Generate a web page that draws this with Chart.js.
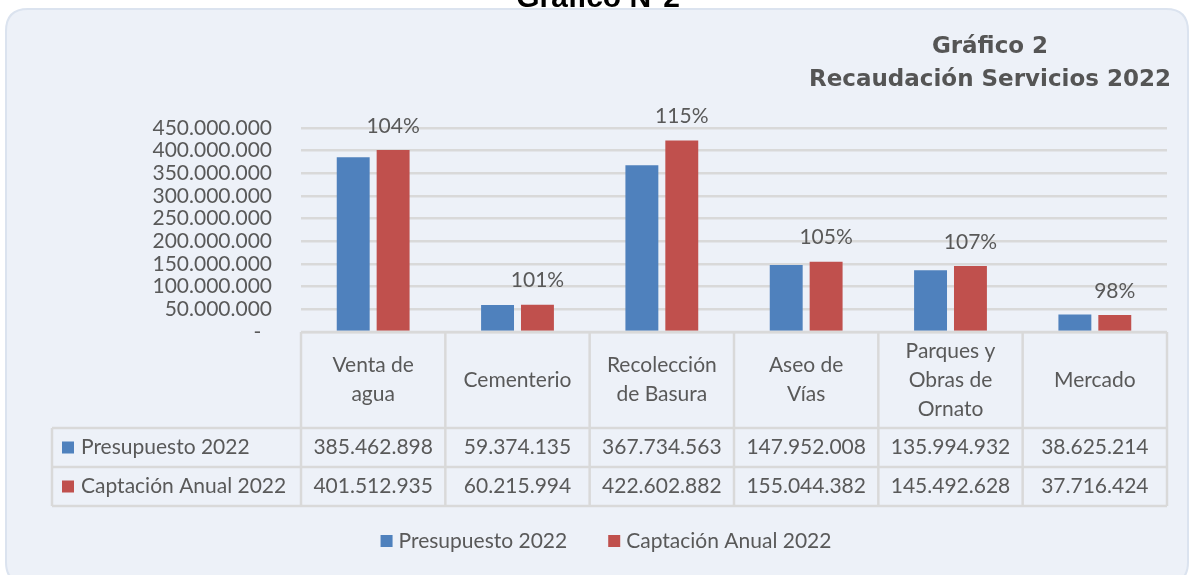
<!DOCTYPE html>
<html>
<head>
<meta charset="utf-8">
<script src="https://cdn.jsdelivr.net/npm/chart.js@4.4.1/dist/chart.umd.min.js"></script>
<style>
html,body{margin:0;padding:0;background:#ffffff;}
#wrap{width:1190px;height:575px;position:relative;}
</style>
</head>
<body>
<div id="wrap"><canvas id="c" width="1190" height="575"></canvas></div>
<script>
// ---- data ----
const pageTitle = 'Gráfico N°2';
const chartTitle = ['Gráfico 2', 'Recaudación Servicios 2022'];
const categories = [['Venta de','agua'], ['Cementerio'], ['Recolección','de Basura'], ['Aseo de','Vías'], ['Parques y','Obras de','Ornato'], ['Mercado']];
const seriesNames = ['Presupuesto 2022', 'Captación Anual 2022'];
const presupuesto = [385462898, 59374135, 367734563, 147952008, 135994932, 38625214];
const captacion = [401512935, 60215994, 422602882, 155044382, 145492628, 37716424];
const cumplimiento = ['104%', '101%', '115%', '105%', '107%', '98%'];
const yTickValues = [0, 50000000, 100000000, 150000000, 200000000, 250000000, 300000000, 350000000, 400000000, 450000000];

// ---- style ----
const BLUE = '#4f81bd', RED = '#c0504d', TXT = '#595959', GRID = '#d9d9d9';
const FONT = 'Lato';
const FS = 21;
const fmt = v => String(Math.round(v)).replace(/\B(?=(\d{3})+(?!\d))/g, '.');

const PAD = {left: 20, right: 23, top: 128, bottom: 68};
const PLOT_LEFT = 301;

function roundRect(ctx, x, y, w, h, r) {
  ctx.beginPath();
  ctx.moveTo(x + r, y);
  ctx.lineTo(x + w - r, y);
  ctx.quadraticCurveTo(x + w, y, x + w, y + r);
  ctx.lineTo(x + w, y + h - r);
  ctx.quadraticCurveTo(x + w, y + h, x + w - r, y + h);
  ctx.lineTo(x + r, y + h);
  ctx.quadraticCurveTo(x, y + h, x, y + h - r);
  ctx.lineTo(x, y + r);
  ctx.quadraticCurveTo(x, y, x + r, y);
  ctx.closePath();
}

const decor = {
  id: 'decor',
  beforeDraw(chart) {
    const ctx = chart.ctx;
    ctx.save();
    ctx.fillStyle = '#ffffff';
    ctx.fillRect(0, 0, chart.width, chart.height);
    roundRect(ctx, 6, 9, 1182, 575, 22);
    ctx.fillStyle = '#edf1f8';
    ctx.fill();
    ctx.lineWidth = 2;
    ctx.strokeStyle = '#dbe3ef';
    ctx.stroke();
    ctx.fillStyle = '#000000';
    ctx.font = 'bold 30px "Liberation Sans"';
    ctx.textAlign = 'center';
    ctx.textBaseline = 'alphabetic';
    ctx.fillText(pageTitle, 598, 7);
    ctx.restore();
  },
  afterDatasetsDraw(chart) {
    const ctx = chart.ctx;
    const meta = chart.getDatasetMeta(1);
    ctx.save();
    ctx.fillStyle = TXT;
    ctx.font = FS + 'px ' + FONT;
    ctx.textAlign = 'center';
    ctx.textBaseline = 'middle';
    meta.data.forEach((bar, i) => {
      ctx.fillText(cumplimiento[i], bar.x, bar.y - 24);
    });
    ctx.restore();
  },
  afterDraw(chart) {
    const ctx = chart.ctx;
    const xs = chart.scales.x;
    const area = chart.chartArea;
    const n = categories.length;
    const w = (area.right - area.left) / n;
    const lefts = [];
    for (let i = 0; i <= n; i++) lefts.push(i < n ? xs.getPixelForValue(i) - w / 2 : xs.getPixelForValue(n - 1) + w / 2);
    const top = area.bottom;
    const rowY = [top, top + 96, top + 135, top + 174];
    const tableLeft = 52;
    const right = lefts[n];

    ctx.save();
    ctx.strokeStyle = GRID;
    ctx.lineWidth = 2.5;
    ctx.beginPath();
    ctx.moveTo(lefts[0], rowY[0]); ctx.lineTo(right, rowY[0]);
    for (let r = 1; r < 4; r++) { ctx.moveTo(tableLeft, rowY[r]); ctx.lineTo(right, rowY[r]); }
    ctx.moveTo(tableLeft, rowY[1]); ctx.lineTo(tableLeft, rowY[3]);
    for (let i = 0; i <= n; i++) { ctx.moveTo(lefts[i], rowY[0]); ctx.lineTo(lefts[i], rowY[3]); }
    ctx.stroke();

    ctx.fillStyle = TXT;
    ctx.font = FS + 'px ' + FONT;
    ctx.textAlign = 'center';
    ctx.textBaseline = 'middle';
    const lh = 29;
    for (let i = 0; i < n; i++) {
      const cx = (lefts[i] + lefts[i + 1]) / 2;
      const lines = categories[i];
      const cy = (rowY[0] + rowY[1]) / 2;
      lines.forEach((t, k) => ctx.fillText(t, cx, cy - (lines.length - 1) * lh / 2 + k * lh));
      ctx.fillText(fmt(presupuesto[i]), cx, (rowY[1] + rowY[2]) / 2);
      ctx.fillText(fmt(captacion[i]), cx, (rowY[2] + rowY[3]) / 2);
    }
    const ds = chart.data.datasets;
    ctx.textAlign = 'left';
    [0, 1].forEach(r => {
      const cy = (rowY[r + 1] + rowY[r + 2]) / 2;
      ctx.fillStyle = ds[r].backgroundColor;
      ctx.fillRect(62, cy - 6, 12, 12);
      ctx.fillStyle = TXT;
      ctx.fillText(ds[r].label, 81, cy);
    });

    // legend
    const ly = 541, box = 12, gapBT = 6, gapItems = 41;
    const w0 = ctx.measureText(ds[0].label).width;
    const w1 = ctx.measureText(ds[1].label).width;
    const total = box + gapBT + w0 + gapItems + box + gapBT + w1;
    let x = 606 - total / 2;
    [w0, w1].forEach((tw, r) => {
      ctx.fillStyle = ds[r].backgroundColor;
      ctx.fillRect(x, ly - 6, box, box);
      ctx.fillStyle = TXT;
      ctx.fillText(ds[r].label, x + box + gapBT, ly);
      x += box + gapBT + tw + gapItems;
    });

    // chart title
    ctx.fillStyle = '#555555';
    ctx.font = 'bold 23px "DejaVu Sans"';
    ctx.textAlign = 'center';
    ctx.fillText(chartTitle[0], 990, 47);
    ctx.fillText(chartTitle[1], 990, 80);
    ctx.restore();
  }
};

Chart.defaults.font.family = FONT;
Chart.defaults.color = TXT;

new Chart(document.getElementById('c'), {
  type: 'bar',
  data: {
    labels: categories,
    datasets: [
      {label: seriesNames[0], data: presupuesto, backgroundColor: BLUE, categoryPercentage: 0.553, barPercentage: 0.825},
      {label: seriesNames[1], data: captacion, backgroundColor: RED, categoryPercentage: 0.553, barPercentage: 0.825}
    ]
  },
  options: {
    responsive: false,
    animation: false,
    devicePixelRatio: 1,
    layout: {padding: PAD},
    plugins: {legend: {display: false}, title: {display: false}, tooltip: {enabled: false}},
    scales: {
      x: {
        grid: {display: false},
        border: {display: false},
        ticks: {display: false},
        afterFit: s => { s.height = 175; }
      },
      y: {
        min: 0, max: 450000000,
        afterBuildTicks: s => { s.ticks = yTickValues.map(v => ({value: v})); },
        afterFit: s => { s.width = PLOT_LEFT - PAD.left; },
        grid: {color: GRID, lineWidth: 2.5, drawTicks: false},
        border: {display: false},
        ticks: {
          autoSkip: false,
          padding: 29,
          color: TXT,
          font: {size: FS, family: FONT},
          callback: v => v === 0 ? '-  ' : fmt(v)
        }
      }
    }
  },
  plugins: [decor]
});
</script>
</body>
</html>
